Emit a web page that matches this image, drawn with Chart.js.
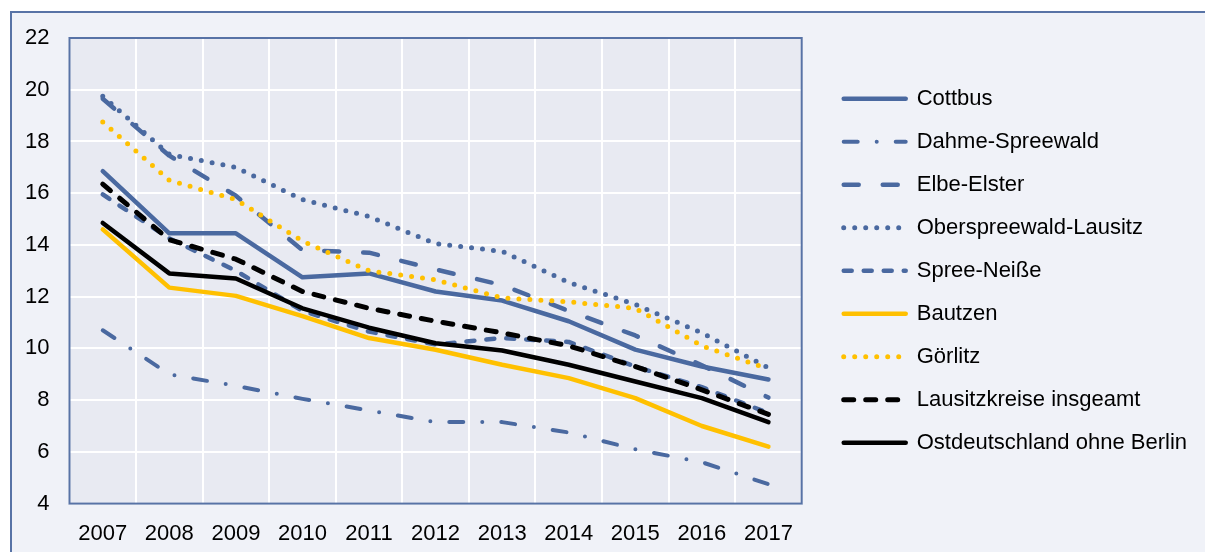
<!DOCTYPE html>
<html>
<head>
<meta charset="utf-8">
<script src="https://cdn.jsdelivr.net/npm/chart.js@4/dist/chart.umd.min.js"></script>
<style>
  html, body { margin: 0; padding: 0; background: #ffffff; overflow: hidden; }
  #panel { position: absolute; left: 10px; top: 11px; width: 1300px; height: 600px;
           background: #F0F2F8; border-top: 2px solid #5873A6; border-left: 2px solid #5873A6; }
  #chart { position: absolute; left: 0; top: 0; }
</style>
</head>
<body>
<div id="panel"></div>
<canvas id="chart" width="1197" height="572"></canvas>
<script>
const years = ['2007', '2008', '2009', '2010', '2011', '2012', '2013', '2014', '2015', '2016', '2017'];

const cottbus  = [16.85, 14.45, 14.45, 12.75, 12.9, 12.2, 11.85, 11.05, 9.95, 9.3, 8.8];
const dahme    = [10.7, 9.0, 8.55, 8.05, 7.6, 7.15, 7.15, 6.75, 6.1, 5.6, 4.75];
const elbe     = [19.65, 17.45, 15.9, 13.8, 13.7, 13.05, 12.45, 11.45, 10.5, 9.35, 8.1];
const ober     = [19.75, 17.5, 17.0, 15.75, 15.1, 14.05, 13.75, 12.55, 11.7, 10.6, 9.25];
const spree    = [15.95, 14.25, 13.0, 11.45, 10.65, 10.15, 10.4, 10.25, 9.3, 8.5, 7.5];
const bautzen  = [14.6, 12.35, 12.03, 11.25, 10.4, 9.95, 9.37, 8.85, 8.08, 7.0, 6.2];
const goerlitz = [18.75, 16.5, 15.75, 14.15, 13.0, 12.65, 11.95, 11.8, 11.55, 10.1, 9.2];
const lausitz  = [16.35, 14.2, 13.45, 12.2, 11.55, 11.05, 10.6, 10.1, 9.3, 8.4, 7.45];
const ost      = [14.85, 12.9, 12.7, 11.55, 10.8, 10.2, 9.92, 9.37, 8.72, 8.08, 7.15];

const blue = '#4A69A0';
const yellow = '#FFC000';
const black = '#000000';

function line(label, data, color, width, dash, order) {
    return {
        label: label,
        data: data,
        borderColor: color,
        backgroundColor: color,
        borderWidth: width,
        borderDash: dash,
        borderCapStyle: 'round',
        borderJoinStyle: 'round',
        pointRadius: 0,
        pointHoverRadius: 0,
        tension: 0,
        order: order
    };
}

// plot area fill + frame
const plotArea = {
    id: 'plotArea',
    beforeDraw(chart) {
        const a = chart.chartArea, c = chart.ctx;
        c.save();
        c.fillStyle = '#E8EAF2';
        c.fillRect(a.left, a.top, a.right - a.left, a.bottom - a.top);
        c.restore();
    },
    beforeDatasetsDraw(chart) {
        const a = chart.chartArea, c = chart.ctx;
        c.save();
        c.strokeStyle = '#5873A6';
        c.lineWidth = 2;
        c.strokeRect(a.left, a.top, a.right - a.left, a.bottom - a.top);
        c.restore();
    }
};

const font = { family: "'Liberation Sans', Arial, sans-serif", size: 22 };

new Chart(document.getElementById('chart').getContext('2d'), {
    type: 'line',
    data: {
        labels: years,
        datasets: [
            line('Cottbus', cottbus, blue, 4.5, [], 9),
            line('Dahme-Spreewald', dahme, blue, 4, [14, 19, 0, 19], 8),
            line('Elbe-Elster', elbe, blue, 4.5, [15, 24], 7),
            line('Oberspreewald-Lausitz', ober, blue, 5, [0, 11], 6),
            line('Spree-Neiße', spree, blue, 4.5, [8, 12], 5),
            line('Bautzen', bautzen, yellow, 4.5, [], 4),
            line('Görlitz', goerlitz, yellow, 5, [0, 11], 3),
            line('Lausitzkreise insgeamt', lausitz, black, 5, [10, 12], 2),
            line('Ostdeutschland ohne Berlin', ost, black, 4.5, [], 1)
        ]
    },
    options: {
        responsive: false,
        animation: false,
        devicePixelRatio: 1,
        layout: { padding: { top: 38, left: 5, right: 0, bottom: 8 } },
        scales: {
            x: {
                offset: true,
                grid: { offset: true, color: '#ffffff', lineWidth: 2, drawTicks: false },
                border: { display: false },
                ticks: { color: '#000', font: font, padding: 17, autoSkip: false, maxRotation: 0 }
            },
            y: {
                min: 4,
                max: 22,
                grid: { color: '#ffffff', lineWidth: 2, drawTicks: false },
                border: { display: false },
                ticks: { stepSize: 2, color: '#000', font: font, padding: 20 }
            },
            gap: {
                type: 'linear',
                position: 'right',
                display: true,
                grid: { display: false, drawTicks: false },
                border: { display: false },
                ticks: { display: false },
                afterFit(s) { s.width = 21; }
            }
        },
        plugins: {
            tooltip: { enabled: false },
            legend: {
                position: 'right',
                fullSize: false,
                maxWidth: 390,
                labels: {
                    usePointStyle: true,
                    pointStyle: 'line',
                    pointStyleWidth: 62,
                    padding: 21,
                    color: '#000',
                    font: font,
                    generateLabels(chart) {
                        const items = Chart.defaults.plugins.legend.labels.generateLabels(chart);
                        items.forEach(it => {
                            const ds = chart.data.datasets[it.datasetIndex];
                            it.strokeStyle = ds.borderColor;
                            it.lineWidth = ds.borderWidth;
                            it.lineDash = ds.borderDash;
                            it.lineCap = 'round';
                        });
                        return items;
                    },
                    sort: (a, b) => a.datasetIndex - b.datasetIndex
                }
            }
        }
    },
    plugins: [plotArea]
});
</script>
</body>
</html>
